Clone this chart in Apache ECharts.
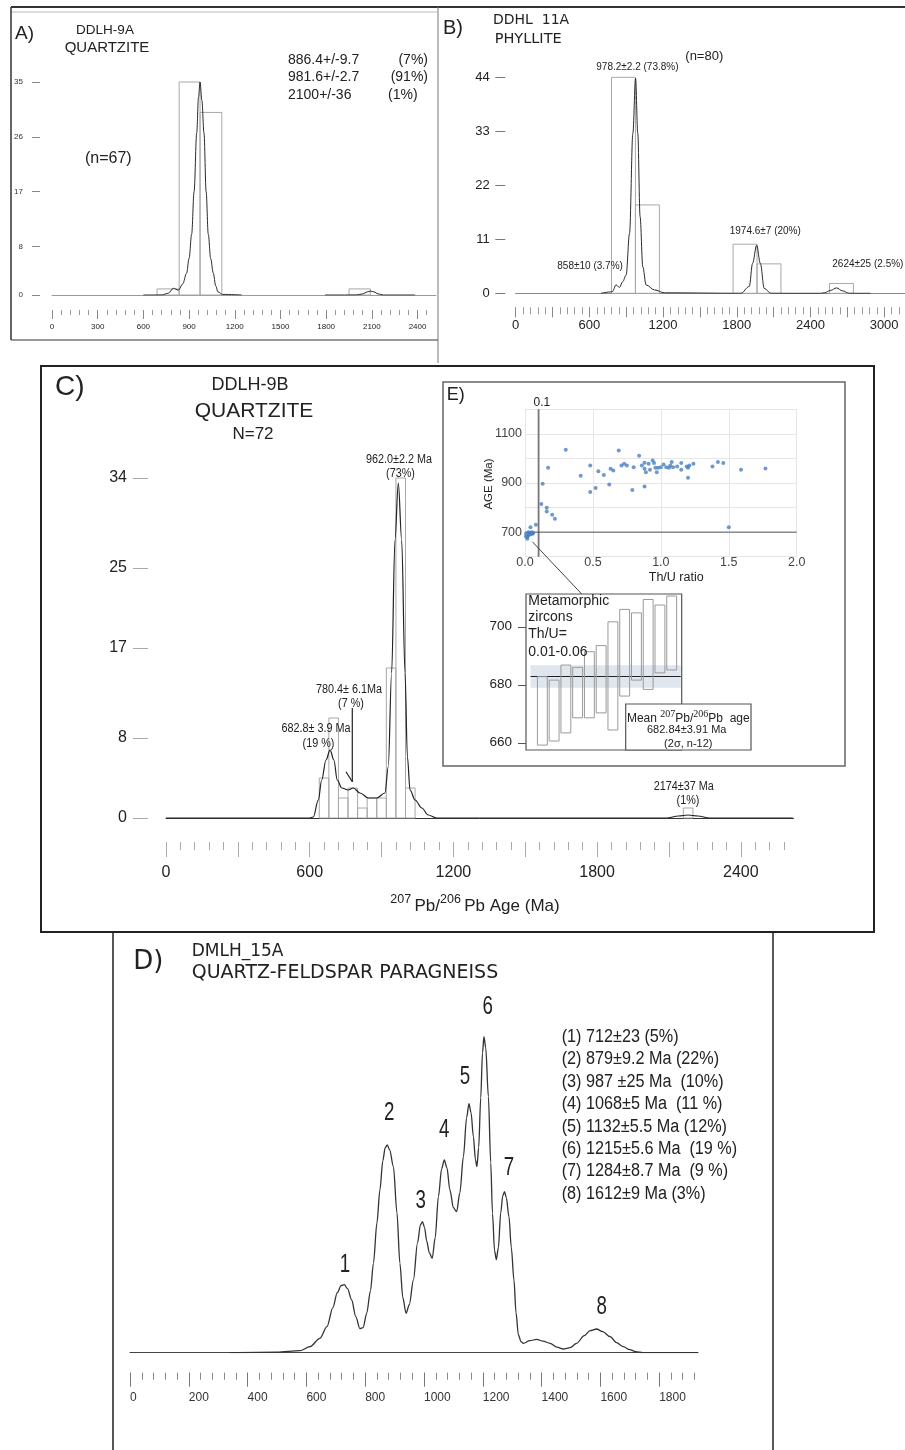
<!DOCTYPE html>
<html><head><meta charset="utf-8">
<script src="https://cdn.jsdelivr.net/npm/echarts@6/dist/echarts.min.js"></script>
<style>html,body{margin:0;padding:0;background:#fff}#c{width:905px;height:1450px}</style>
</head><body><div id="c"></div>
<script>
// ================= DATA =================
// Panel A  (DDLH-9A)
const histA = [[690,835,1],[835,972,35],[972,1115,30],[1950,2090,1]];
const kdeA1_age = [600,720,764,797,830,858,884,900,917,933,950,962,972,984,998,1012,1026,1042,1059,1075,1090,1120,1245];
const kdeA1_val = [0,0,0.3,1.1,0.8,1.8,3.6,6,10,17,26.6,32.5,35,32,26.6,17,10,6,3.6,1.5,0.5,0.1,0];
const kdeA2_age = [1793,2000,2040,2070,2092,2115,2140,2175,2384];
const kdeA2_val = [0,0,0.2,0.5,0.65,0.5,0.2,0,0];
const yTicksA = [0,8,17,26,35];
const xLabelsA = [0,300,600,900,1200,1500,1800,2100,2400];

// Panel B  (DDHL 11A)
const histB = [[780,975,44],[975,1170,18],[1770,1965,10],[1965,2160,6],[2555,2750,2]];
const kdeB_age = [694,785,818,845,872,899,927,954,976,994,1013,1035,1062,1130,1211,1834,1902,1929,1962,1992,2024,2078,2480,2512,2566,2612,2661,2715,2889];
const kdeB_val = [0,0.3,1.7,1.2,2.4,3.7,12.2,32.6,43.8,32.6,15.6,5.4,1.7,0.7,0.1,0,1.4,6.1,9.8,6.1,1,0,0,0.1,0.6,1.1,0.5,0,0];
const yTicksB = [0,11,22,33,44];
const xMajorB = [0,300,600,900,1200,1500,1800,2100,2400,2700,3000];
const xLabelsB = [0,600,1200,1800,2400,3000];

// Panel C  (DDLH-9B)
const histC = [[640,680,4],[680,720,10],[720,760,2],[760,800,3],[800,840,1],[840,880,2],[880,920,2],[920,960,15],[960,1000,34],[1000,1040,3],[2160,2200,1]];
const kdeC_age = [0,600,615,636,650,668,685,701,715,734,761,782,810,845,880,914,928,942,956,970,984,998,1008,1019,1040,1068,1095,1130,1300,2090,2140,2180,2220,2270,2617];
const kdeC_val = [0,0,0.1,1.8,3.8,5.8,6.8,5.8,3.8,3.0,2.8,3.0,2.5,2.0,2.0,2.5,5.1,14.5,27.8,33.5,27.8,14.5,6.1,2.8,1.8,1.0,0.3,0,0,0,0.2,0.3,0.2,0,0];
const yTicksC = [0,8,17,25,34];
const xMajorC = [0,300,600,900,1200,1500,1800,2100,2400];
const xLabelsC = [0,600,1200,1800,2400];

// Panel E  (Th/U vs age)
const thU  = [0.30,0.69,0.84,0.17,0.13,0.12,0.16,0.16,0.20,0.22,0.08,0.04,
              0.007,0.017,0.025,0.032,0.017,0.037,0.049,0.061,0.007,0.025,0.042,0.056,
              0.41,0.48,0.48,0.52,0.54,0.58,0.62,0.63,0.65,0.71,0.73,0.75,0.79,0.80,0.88,0.88,0.88,0.89,
              0.91,0.92,0.94,0.95,0.96,0.97,0.98,1.00,1.02,1.04,1.07,1.08,1.12,1.15,1.15,1.19,1.20,1.20,
              1.21,1.24,1.38,1.42,1.46,1.50,1.59,1.77,0.86,1.06,1.09];
const ageE = [1035,1032,1011,962,897,815,799,784,771,754,730,720,
              693,680,700,691,673,696,700,697,682,686,691,693,
              930,971,863,880,948,933,894,958,951,971,978,971,872,964,982,886,958,944,
              978,954,992,981,962,944,962,964,975,964,971,985,967,981,954,967,921,962,
              971,978,967,985,981,720,954,959,971,962,964];
const thuLimit = 0.1;
const ageLimit = 700;
const yLabelsE = [700,900,1100];

// Panel E inset: metamorphic zircon 207Pb/206Pb ages (2 sigma boxes)
const metaLow  = [659.2,660.6,663.4,668.6,668.6,670.3,664.4,676.1,681.6,678.4,684.1,685.1];
const metaHigh = [682.8,681.6,686.8,686.0,691.4,693.5,701.7,706.0,704.8,709.4,707.5,710.6];
const metaMean = 682.84;
const metaErr  = 3.91;
const yTicksMeta = [660,680,700];

// Panel D  (DMLH_15A)
const kdeD_age = [340,500,578,612,646,670,690,705,718,729,740,754,768,782,793,805,818,828,840,850,860,868,875,883,896,908,918,928,939,950,964,978,988,995,1002,1009,1018,1028,1038,1049,1060,1069,1078,1088,1100,1111,1122,1134,1145,1153,1160,1168,1175,1180,1186,1193,1199,1204,1210,1219,1227,1233,1240,1246,1253,1261,1268,1274,1280,1289,1297,1306,1313,1321,1330,1338,1360,1383,1405,1429,1452,1474,1497,1519,1545,1565,1587,1608,1633,1655,1678,1700,1720,1745,1932];
const kdeD_val = [0,0.5,2,6,14.4,26,45,60,67,68,64,52.7,36,24,25,39.4,62,89.4,130,162.7,192,205,207.7,203,186,140,89.4,55,39.4,48,72.7,110,128,131,125,112,100,94.4,115,156,184,192.7,185,163,145,141,160,196,235,249,240,216,193,186,205,255,300,316,305,256,190,139.4,102,93,105,140,157,161,155,136,105,72.7,40,18,11,9.4,12,13.4,11.5,9.4,5.5,3.7,5,9.4,17,22,23.7,21,16,10,6,3,1,0,0];
const xLabelsD = [0,200,400,600,800,1000,1200,1400,1600,1800];
const peakNamesD = ['1','2','3','4','5','6','7','8'];
const legendD = ['(1) 712±23 (5%)','(2) 879±9.2 Ma (22%)','(3) 987 ±25 Ma  (10%)','(4) 1068±5 Ma  (11 %)',
                 '(5) 1132±5.5 Ma (12%)','(6) 1215±5.6 Ma  (19 %)','(7) 1284±8.7 Ma  (9 %)','(8) 1612±9 Ma (3%)'];

// ================= HELPERS =================
const SANS = "'Liberation Sans', Arial, sans-serif";
const VER  = "'DejaVu Sans', Verdana, sans-serif";
function pairs(xs, ys){ return xs.map((x,i)=>[x, ys[i]]); }
function range(a,b,s){ const r=[]; for(let v=a; v<=b+1e-9; v+=s) r.push(Math.round(v*1000)/1000); return r; }
const plain = v => String(v);

function baseX(grid, max, color){
  return {type:'value', gridIndex:grid, min:0, max:max, position:'bottom',
    axisLine:{show:true,onZero:false,lineStyle:{color:color,width:1}},
    axisTick:{show:false}, axisLabel:{show:false}, splitLine:{show:false}};
}
function tickX(grid, max, offset, ticks, len, color, labels, lab){
  return {type:'value', gridIndex:grid, min:0, max:max, position:'bottom', offset:offset,
    axisLine:{show:false,onZero:false},
    axisTick:{show:true, customValues:ticks, length:len, lineStyle:{color:color,width:1}},
    axisLabel: labels ? Object.assign({show:true, customValues:labels, color:'#222', formatter:plain}, lab) : {show:false},
    splitLine:{show:false}};
}
function tickY(grid, min, max, offset, ticks, len, color, lab){
  return {type:'value', gridIndex:grid, min:min, max:max, position:'left', offset:offset,
    axisLine:{show:false,onZero:false},
    axisTick:{show:true, customValues:ticks, length:len, lineStyle:{color:color,width:1}},
    axisLabel:Object.assign({show:true, customValues:ticks, color:'#222', formatter:plain}, lab),
    splitLine:{show:false}};
}
function histRender(params, api){
  const p0 = api.coord([api.value(0), 0]);
  const p1 = api.coord([api.value(1), api.value(2)]);
  return {type:'rect', shape:{x:p0[0], y:p1[1], width:p1[0]-p0[0], height:p0[1]-p1[1]},
    style:{fill:'none', stroke:'#a8a8a8', lineWidth:1}};
}
function T(text, x, y, size, align, family, extra){
  return Object.assign({type:'text', x:x, y:y, z:10,
    style:{text:text, fontSize:size, fontFamily:family||SANS, fill:'#222', align:align||'left', verticalAlign:'middle'}}, extra||{});
}
function L(x1,y1,x2,y2,color,w){
  return {type:'line', z:5, shape:{x1:x1,y1:y1,x2:x2,y2:y2}, style:{stroke:color||'#222', lineWidth:w||1}};
}
function R(x,y,w,h,color,lw,fill){
  return {type:'rect', z:1, shape:{x:x,y:y,width:w,height:h}, style:{stroke:color, lineWidth:lw, fill:fill||'none'}};
}
const kdeStyle = {type:'line', showSymbol:false, smooth:0.35, smoothMonotone:'x', silent:true,
  lineStyle:{color:'#2a2a2a', width:1}, z:3};

// ================= OPTION =================
const option = {
  animation:false,
  backgroundColor:'#fff',
  grid:[
    {left:52,   top:82,    width:383.8, height:213},   // A
    {left:515.7,top:77.3,  width:389.9, height:216},   // B
    {left:166,  top:478,   width:627.5, height:340},   // C
    {left:525,  top:409.3, width:271.7, height:147.4}, // E scatter
    {left:526,  top:594,   width:155.7, height:156},   // E mean plot
    {left:130,  top:952.7, width:568,   height:400}    // D
  ],
  xAxis:[
    baseX(0, 2520, '#999'),
    tickX(0, 2520, 15, range(0,2460,60), 5, '#999'),
    tickX(0, 2520, 15, xLabelsA, 9, '#888', xLabelsA, {fontSize:8, fontFamily:SANS, margin:13}),
    baseX(1, 3170, '#888'),
    tickX(1, 3170, 14, range(0,3120,60), 7, '#999'),
    tickX(1, 3170, 14, xMajorB, 10, '#888', xLabelsB, {fontSize:13, fontFamily:SANS, margin:12}),
    baseX(2, 2620, '#333'),
    tickX(2, 2620, 24, range(0,2580,60), 8, '#aaa'),
    tickX(2, 2620, 24, xMajorC, 15, '#aaa', xLabelsC, {fontSize:16, fontFamily:SANS, margin:23}),
    {type:'value', gridIndex:3, min:0, max:2, interval:0.5, position:'bottom',
      axisLine:{show:false,onZero:false}, axisTick:{show:false},
      axisLabel:{color:'#444', fontSize:12.5, fontFamily:SANS, margin:-1, formatter:v=>v.toFixed(1)},
      splitLine:{show:true, lineStyle:{color:'#e6e6e6'}}},
    {type:'value', gridIndex:4, min:-1.39, max:11.85, show:false, axisLine:{onZero:false}},
    baseX(5, 1932, '#444'),
    tickX(5, 1932, 20, range(0,1920,40), 7, '#888'),
    tickX(5, 1932, 20, xLabelsD, 14, '#777', xLabelsD, {fontSize:12, fontFamily:SANS, margin:19, align:'left', color:'#333'})
  ],
  yAxis:[
    tickY(0, 0, 35, 12, yTicksA, 8, '#888', {fontSize:8, fontFamily:SANS, margin:17, color:'#333'}),
    tickY(1, 0, 44, 10.4, yTicksB, 10, '#777', {fontSize:13, fontFamily:SANS, margin:15.6}),
    tickY(2, 0, 34, 18, yTicksC, 15, '#aaa', {fontSize:16, fontFamily:SANS, margin:21}),
    {type:'value', gridIndex:3, min:600, max:1200, interval:100, position:'left',
      axisLine:{show:false,onZero:false}, axisTick:{show:false},
      axisLabel:{color:'#444', fontSize:12.5, fontFamily:SANS, margin:3,
        formatter:v=> yLabelsE.indexOf(v) >= 0 ? String(v) : ''},
      splitLine:{show:true, lineStyle:{color:'#e6e6e6'}}},
    tickY(4, 657.5, 711.3, 0, yTicksMeta, 8, '#555', {fontSize:13.5, fontFamily:SANS, margin:14}),
    {type:'value', gridIndex:5, min:0, max:400, show:false, axisLine:{onZero:false}}
  ],
  series:[
    // A
    {type:'custom', xAxisIndex:0, yAxisIndex:0, renderItem:histRender, data:histA, encode:{x:[0,1], y:2}, z:2, silent:true},
    Object.assign({}, kdeStyle, {xAxisIndex:0, yAxisIndex:0, data:pairs(kdeA1_age, kdeA1_val)}),
    Object.assign({}, kdeStyle, {xAxisIndex:0, yAxisIndex:0, data:pairs(kdeA2_age, kdeA2_val)}),
    // B
    {type:'custom', xAxisIndex:3, yAxisIndex:1, renderItem:histRender, data:histB, encode:{x:[0,1], y:2}, z:2, silent:true},
    Object.assign({}, kdeStyle, {xAxisIndex:3, yAxisIndex:1, data:pairs(kdeB_age, kdeB_val)}),
    // C
    {type:'custom', xAxisIndex:6, yAxisIndex:2, renderItem:histRender, data:histC, encode:{x:[0,1], y:2}, z:2, silent:true},
    Object.assign({}, kdeStyle, {xAxisIndex:6, yAxisIndex:2, data:pairs(kdeC_age, kdeC_val), lineStyle:{color:'#222', width:1.2}}),
    // E scatter
    {type:'line', xAxisIndex:9, yAxisIndex:3, data:[[thuLimit,600],[thuLimit,1200]], showSymbol:false, silent:true,
      lineStyle:{color:'#777', width:1.8}, z:2},
    {type:'line', xAxisIndex:9, yAxisIndex:3, data:[[0,ageLimit],[2,ageLimit]], showSymbol:false, silent:true,
      lineStyle:{color:'#555', width:1}, z:2},
    {type:'scatter', xAxisIndex:9, yAxisIndex:3, data:pairs(thU, ageE), symbolSize:4,
      itemStyle:{color:'#4a7fc1'}, z:4, silent:true},
    // E mean plot
    {type:'custom', xAxisIndex:10, yAxisIndex:4, silent:true, z:2,
      data:[[-1.0, 11.77, metaMean, metaErr]], encode:{x:[0,1], y:2},
      renderItem:function(params, api){
        const a = api.coord([api.value(0), api.value(2)+api.value(3)]);
        const b = api.coord([api.value(1), api.value(2)-api.value(3)]);
        const m1 = api.coord([api.value(0), api.value(2)]);
        const m2 = api.coord([api.value(1), api.value(2)]);
        return {type:'group', children:[
          {type:'rect', shape:{x:a[0], y:a[1], width:b[0]-a[0], height:b[1]-a[1]}, style:{fill:'#dfe6ee'}},
          {type:'line', shape:{x1:m1[0], y1:m1[1], x2:m2[0], y2:m2[1]}, style:{stroke:'#222', lineWidth:1.2}, z2:5}
        ]};
      }},
    {type:'custom', xAxisIndex:10, yAxisIndex:4, silent:true, z:3,
      data: metaLow.map((v,i)=>[i, v, metaHigh[i]]), encode:{x:0, y:[1,2]},
      renderItem:function(params, api){
        const a = api.coord([api.value(0)-0.42, api.value(2)]);
        const b = api.coord([api.value(0)+0.42, api.value(1)]);
        return {type:'rect', shape:{x:a[0], y:a[1], width:b[0]-a[0], height:b[1]-a[1]},
          style:{fill:'none', stroke:'#9a9a9a', lineWidth:1}};
      }},
    // D
    Object.assign({}, kdeStyle, {xAxisIndex:11, yAxisIndex:5, data:pairs(kdeD_age, kdeD_val), smooth:0.3, lineStyle:{color:'#333', width:1.3}})
  ],
  graphic:[]
};

const g = option.graphic;
// frames
g.push(L(11,7,905,7,'#333',2));
g.push(L(11,12,437,12,'#bbb',1));
g.push(L(11,7,11,340,'#333',1.5));
g.push(L(11,340,438,340,'#333',1));
g.push(L(438,7,438,363,'#777',1));
g.push(R(41,366,833,566,'#222',2));
g.push(R(443,382,402,384,'#666',1.5));
g.push(R(113,932,660,540,'#222',1.5));
g.push(R(526,594,155.7,156,'#555',1.2));
g.push(L(532.3,541.7,581.7,594,'#444',1));
g.push(Object.assign(R(625.7,704,125.3,46,'#555',1.2,'#fff'),{z:6}));

// Panel A texts
g.push(T('A)', 15, 34, 19));
g.push(T('DDLH-9A', 105, 30, 13.5, 'center'));
g.push(T('QUARTZITE', 107, 47.5, 15, 'center'));
g.push(T('886.4+/-9.7', 288, 60, 14));  g.push(T('(7%)', 428, 60, 14, 'right'));
g.push(T('981.6+/-2.7', 288, 77.3, 14)); g.push(T('(91%)', 428, 77.3, 14, 'right'));
g.push(T('2100+/-36', 288, 95, 14));    g.push(T('(1%)', 388, 95, 14));
g.push(T('(n=67)', 85, 159, 16));

// Panel B texts
const narrowB = {scaleX:0.87};
g.push(T('B)', 443, 28.3, 20));
g.push(T('DDHL  11A', 493, 20.3, 14, 'left', VER));
g.push(T('PHYLLITE', 494.7, 39.2, 14.5, 'left', VER));
g.push(T('(n=80)', 685.3, 56.7, 13));
g.push(T('978.2±2.2 (73.8%)', 596.3, 66.7, 11.5, 'left', SANS, narrowB));
g.push(T('858±10 (3.7%)', 557.3, 265.7, 11.5, 'left', SANS, narrowB));
g.push(T('1974.6±7 (20%)', 729.7, 231, 11.5, 'left', SANS, narrowB));
g.push(T('2624±25 (2.5%)', 832.3, 264.3, 11.5, 'left', SANS, narrowB));

// Panel C texts
g.push(T('C)', 55, 387, 28));
g.push(T('DDLH-9B', 250, 385.5, 18, 'center'));
g.push(T('QUARTZITE', 254, 411, 21, 'center'));
g.push(T('N=72', 253, 434, 17, 'center'));
const narrowC = {scaleX:0.9};
g.push(T('962.0±2.2 Ma', 399, 460, 12, 'center', SANS, narrowC)); g.push(T('(73%)', 400.5, 473.3, 12, 'center', SANS, narrowC));
g.push(T('780.4± 6.1Ma', 349, 689.3, 12, 'center', SANS, narrowC)); g.push(T('(7 %)', 351, 703.3, 12, 'center', SANS, narrowC));
g.push(T('682.8± 3.9 Ma', 316, 729, 12, 'center', SANS, narrowC)); g.push(T('(19 %)', 318.5, 743.5, 12, 'center', SANS, narrowC));
g.push(T('2174±37 Ma', 683.7, 786.7, 12, 'center', SANS, narrowC)); g.push(T('(1%)', 688, 801, 12, 'center', SANS, narrowC));
g.push(L(352.3,708,352.3,782,'#222',1.2));
g.push(L(346,771.7,352.3,781.7,'#222',1.2));
g.push({type:'text', x:475, y:904, z:10, style:{
  text:'{s|207} {m|Pb/}{s|206} {m|Pb Age (Ma)}', align:'center', verticalAlign:'middle', fill:'#222',
  rich:{s:{fontSize:12.5, fontFamily:SANS, verticalAlign:'top', lineHeight:22, fill:'#222'},
        m:{fontSize:17, fontFamily:SANS, verticalAlign:'bottom', lineHeight:22, fill:'#222'}}}});

// Panel E texts
g.push(T('E)', 446.7, 395, 18));
g.push(T('0.1', 541.8, 402.7, 12, 'center'));
g.push(T('AGE (Ma)', 489.3, 484, 11.5, 'center', SANS, {rotation:Math.PI/2}));
g.push(T('Th/U ratio', 676.2, 578, 12.5, 'center'));
g.push(T('Metamorphic', 528.3, 600.7, 14));
g.push(T('zircons', 528.3, 617.3, 14));
g.push(T('Th/U=', 528.3, 634, 14));
g.push(T('0.01-0.06', 528.3, 651.7, 14));
g.push({type:'text', x:688.3, y:716.7, z:10, style:{
  text:'{m|Mean }{s|207}{m|Pb/}{s|206}{m|Pb  age}', align:'center', verticalAlign:'middle', fill:'#222',
  rich:{s:{fontSize:10, fontFamily:"'Liberation Serif', serif", verticalAlign:'top', lineHeight:15, fill:'#222'},
        m:{fontSize:12, fontFamily:SANS, verticalAlign:'bottom', lineHeight:15, fill:'#222'}}}});
g.push(T('682.84±3.91 Ma', 686.7, 730.3, 11, 'center'));
g.push(T('(2σ, n-12)', 688.3, 744, 11, 'center'));

// Panel D texts
g.push(T('D)', 133.3, 962, 26, 'left', VER));
g.push(T('DMLH_15A', 191.7, 951.7, 17, 'left', VER));
g.push(T('QUARTZ-FELDSPAR PARAGNEISS', 191.7, 973.3, 19, 'left', VER));
const peakPosD = [[345,1265],[389.3,1112.7],[420.7,1200.7],[444.3,1130],[465,1076.7],[487.7,1006.7],[509,1168.3],[601.7,1306.7]];
peakNamesD.forEach((n,i)=>g.push(T(n, peakPosD[i][0], peakPosD[i][1], 26, 'center', SANS, {scaleX:0.72})));
legendD.forEach((s,i)=>g.push(T(s, 561.7, 1037 + 22.4*i, 18, 'left', SANS, {scaleX:0.9})));

const chart = echarts.init(document.getElementById('c'), null, {renderer:'canvas', width:905, height:1450});
chart.setOption(option);
</script>
</body></html>
